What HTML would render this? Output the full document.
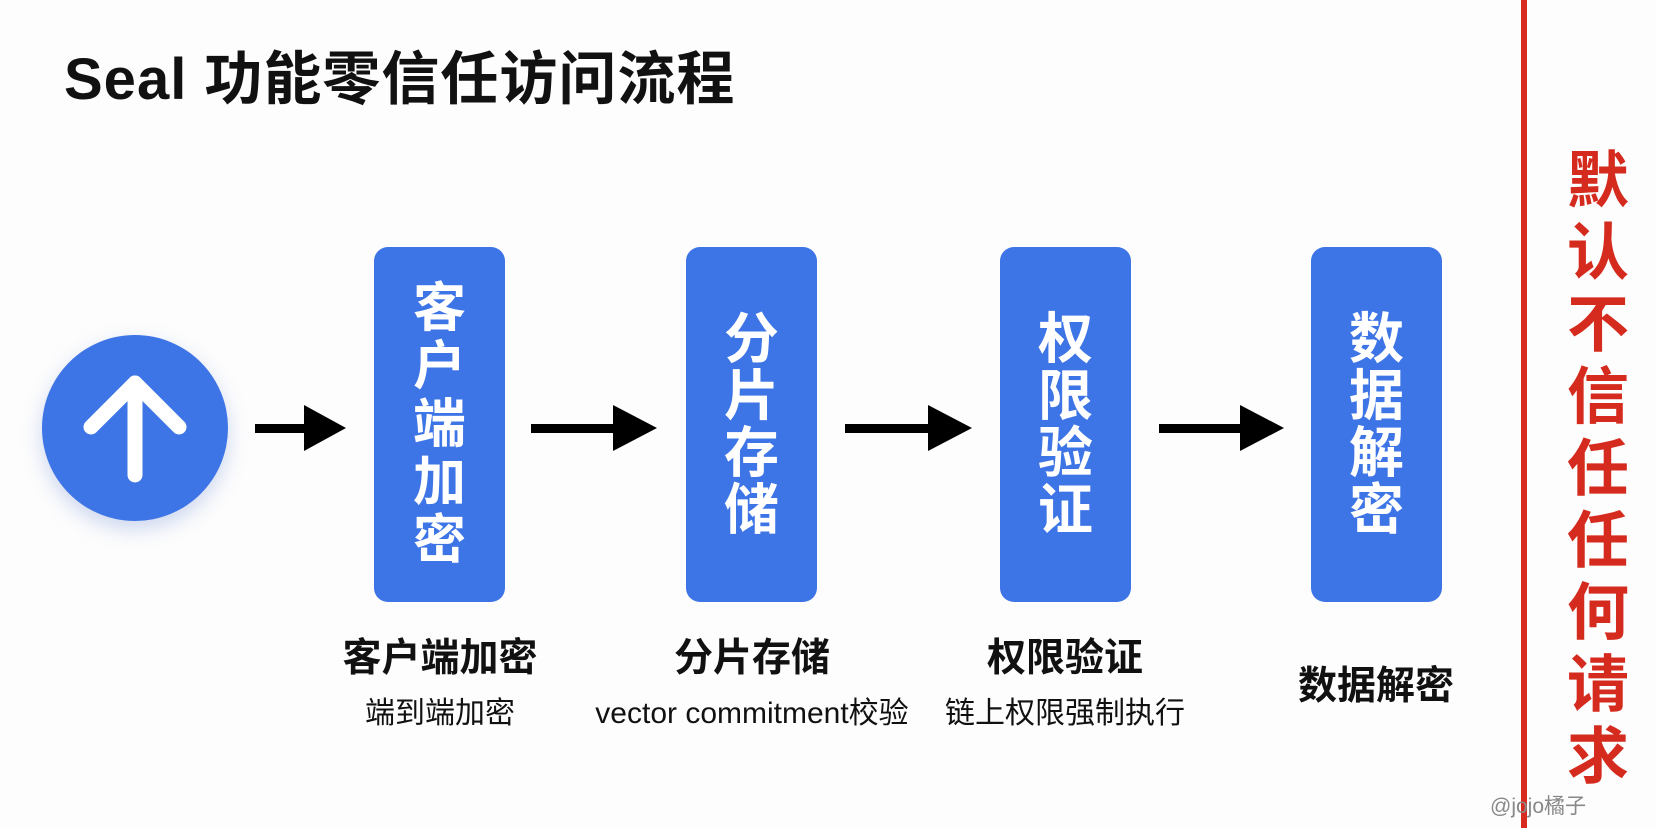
<!DOCTYPE html>
<html><head><meta charset="utf-8"><style>
*{margin:0;padding:0;box-sizing:border-box}
body{width:1656px;height:828px;background:#fdfdfd;position:relative;overflow:hidden;font-family:"Liberation Sans","Noto Sans CJK SC",sans-serif}
.t{position:absolute;left:64px;top:32px;font-size:58px;font-weight:bold;color:#111;letter-spacing:1px}
.circ{position:absolute;left:42px;top:335px;width:186px;height:186px;border-radius:50%;background:#3d74e6;box-shadow:0 8px 20px rgba(60,100,200,.25)}
.box{position:absolute;top:247px;width:131px;height:355px;border-radius:14px;background:#3d74e6;color:#fff;font-weight:bold;font-size:55px;display:flex;flex-direction:column;align-items:center;justify-content:center;line-height:57px}
.box.f{font-size:53px;line-height:58px}
.lab{position:absolute;text-align:center;width:400px;color:#111}
.lab b{display:block;font-size:39px;line-height:46px}
.lab span{display:block;font-size:30px;line-height:40px;margin-top:12px}
.red{position:absolute;left:1521px;top:0;width:6px;height:828px;background:#d82b1f}
.rt{position:absolute;left:1560px;top:146px;width:76px;text-align:center;color:#d52b1e;font-weight:bold;font-size:62px;line-height:72px}
.wm{position:absolute;left:1490px;top:790px;font-size:21px;color:#888}
</style></head><body>
<div class="t">Seal 功能零信任访问流程</div>
<div class="circ"><svg width="186" height="186" viewBox="0 0 186 186"><g stroke="#fff" stroke-width="15" stroke-linecap="round" stroke-linejoin="round" fill="none"><line x1="93" y1="48" x2="93" y2="140"/><polyline points="49,92 93,48 137,92"/></g></svg></div>
<svg style="position:absolute;left:0;top:0" width="1656" height="828">
<g fill="#000">
<rect x="255" y="424" width="55" height="9"/><polygon points="304,405 346,428 304,451"/>
<rect x="531" y="424" width="88" height="9"/><polygon points="613,405 657,428 613,451"/>
<rect x="845" y="424" width="89" height="9"/><polygon points="928,405 972,428 928,451"/>
<rect x="1159" y="424" width="87" height="9"/><polygon points="1240,405 1284,428 1240,451"/>
</g></svg>
<div class="box f" style="left:374px"><div>客</div><div>户</div><div>端</div><div>加</div><div>密</div></div>
<div class="box" style="left:686px"><div>分</div><div>片</div><div>存</div><div>储</div></div>
<div class="box" style="left:1000px"><div>权</div><div>限</div><div>验</div><div>证</div></div>
<div class="box" style="left:1311px"><div>数</div><div>据</div><div>解</div><div>密</div></div>
<div class="lab" style="left:240px;top:636px"><b>客户端加密</b><span>端到端加密</span></div>
<div class="lab" style="left:552px;top:636px"><b>分片存储</b><span>vector commitment校验</span></div>
<div class="lab" style="left:865px;top:636px"><b>权限验证</b><span>链上权限强制执行</span></div>
<div class="lab" style="left:1176px;top:664px"><b>数据解密</b></div>
<div class="red"></div>
<div class="rt">默<br>认<br>不<br>信<br>任<br>任<br>何<br>请<br>求</div>
<div class="wm">@jojo橘子</div>
</body></html>
